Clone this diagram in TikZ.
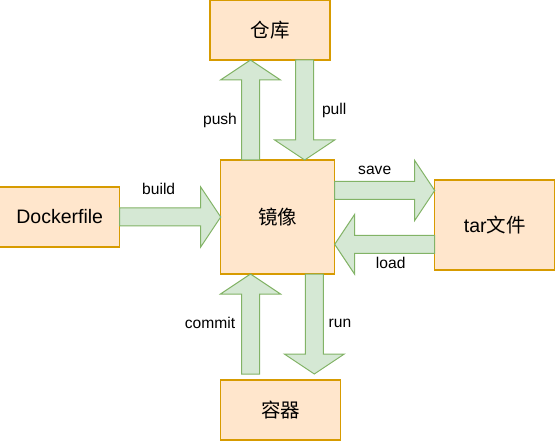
\documentclass[tikz,border=0pt]{standalone}
\usepackage{fontspec}
\setmainfont{Liberation Sans}
\newfontfamily\cjk{Noto Sans CJK SC}
\usetikzlibrary{positioning,calc}
\definecolor{boxfill}{HTML}{FFE6CC}
\definecolor{boxline}{HTML}{D79B00}
\definecolor{arrfill}{HTML}{D5E8D4}
\definecolor{arrline}{HTML}{82B366}

% fat block arrow from #1 to #2
\newcommand{\fatarrow}[2]{%
    \draw[blockarrow] let \p1=(#1), \p2=(#2),
        \n1={veclen(\x2-\x1,\y2-\y1)}, \n2={atan2(\y2-\y1,\x2-\x1)} in
        [shift={(\p1)}, rotate=\n2]
        (0,-9bp) -- (\n1-20bp,-9bp) -- (\n1-20bp,-30bp) -- (\n1,0bp)
        -- (\n1-20bp,30bp) -- (\n1-20bp,9bp) -- (0,9bp) -- cycle;
}

\begin{document}
\begin{tikzpicture}[x=1bp, y=-1bp]
    \tikzset{
        box/.style={draw=boxline, fill=boxfill, line width=1.1bp, inner sep=0pt, outer sep=0pt,
            minimum width=120bp, minimum height=60bp, font=\fontsize{19.5bp}{23bp}\selectfont},
        bigbox/.style={box, minimum width=114bp, minimum height=114bp},
        tarbox/.style={box, minimum height=90bp},
        lbl/.style={inner sep=0pt, font=\fontsize{15.6bp}{19bp}\selectfont},
        blockarrow/.style={draw=arrline, fill=arrfill, line width=1bp}
        }
    \useasboundingbox (0,0) rectangle (555,441);

    %image
    \node (image) [bigbox] at (277.7,217) {\cjk 镜像};

    %around it
    \node (repo) [box, above=100bp of image, xshift=-7.7bp] {\cjk 仓库};
    \node (dockerfile) [box, left=101bp of image] {Dockerfile};
    \node (tarfile) [tarbox, right=100bp of image, yshift=-8bp] {tar{\cjk 文件}};
    \node (container) [box, below=106bp of image, xshift=3bp] {\cjk 容器};

    %arrow ends
    \coordinate (pushs) at ([xshift=-27.2bp]image.north);
    \coordinate (pullt) at ([xshift=27bp]image.north);
    \coordinate (saves) at ([yshift=26.5bp]image.east);
    \coordinate (loadt) at ([yshift=-27.3bp]image.east);
    \coordinate (committ) at ([xshift=-27.2bp]image.south);
    \coordinate (runs) at ([xshift=36.6bp]image.south);
    \coordinate (commitb) at ($(committ |- container.north)+(0,-6)$);
    \coordinate (runt) at ($(runs |- container.north)+(0,-6)$);

    \fatarrow{pushs}{pushs |- repo.south}
    \fatarrow{pullt |- repo.south}{pullt}
    \fatarrow{dockerfile.east}{image.west}
    \fatarrow{saves}{saves -| tarfile.west}
    \fatarrow{loadt -| tarfile.west}{loadt}
    \fatarrow{commitb}{committ}
    \fatarrow{runs}{runt}

    %labels
    \node (pushlbl) [lbl] at ([xshift=-30.5bp, yshift=40bp]pushs) {push};
    \node (pulllbl) [lbl] at ([xshift=29.5bp, yshift=50bp]pullt) {pull};
    \node (buildlbl) [lbl] at ([xshift=39bp, yshift=28bp]dockerfile.east) {build};
    \node (savelbl) [lbl] at ([xshift=40bp, yshift=20.5bp]saves) {save};
    \node (loadlbl) [lbl] at ([xshift=56bp, yshift=-18.7bp]loadt) {load};
    \node (commitlbl) [lbl] at ([xshift=-40.5bp, yshift=51bp]commitb) {commit};
    \node (runlbl) [lbl] at ([xshift=25.7bp, yshift=51bp]runt) {run};
\end{tikzpicture}
\end{document}
